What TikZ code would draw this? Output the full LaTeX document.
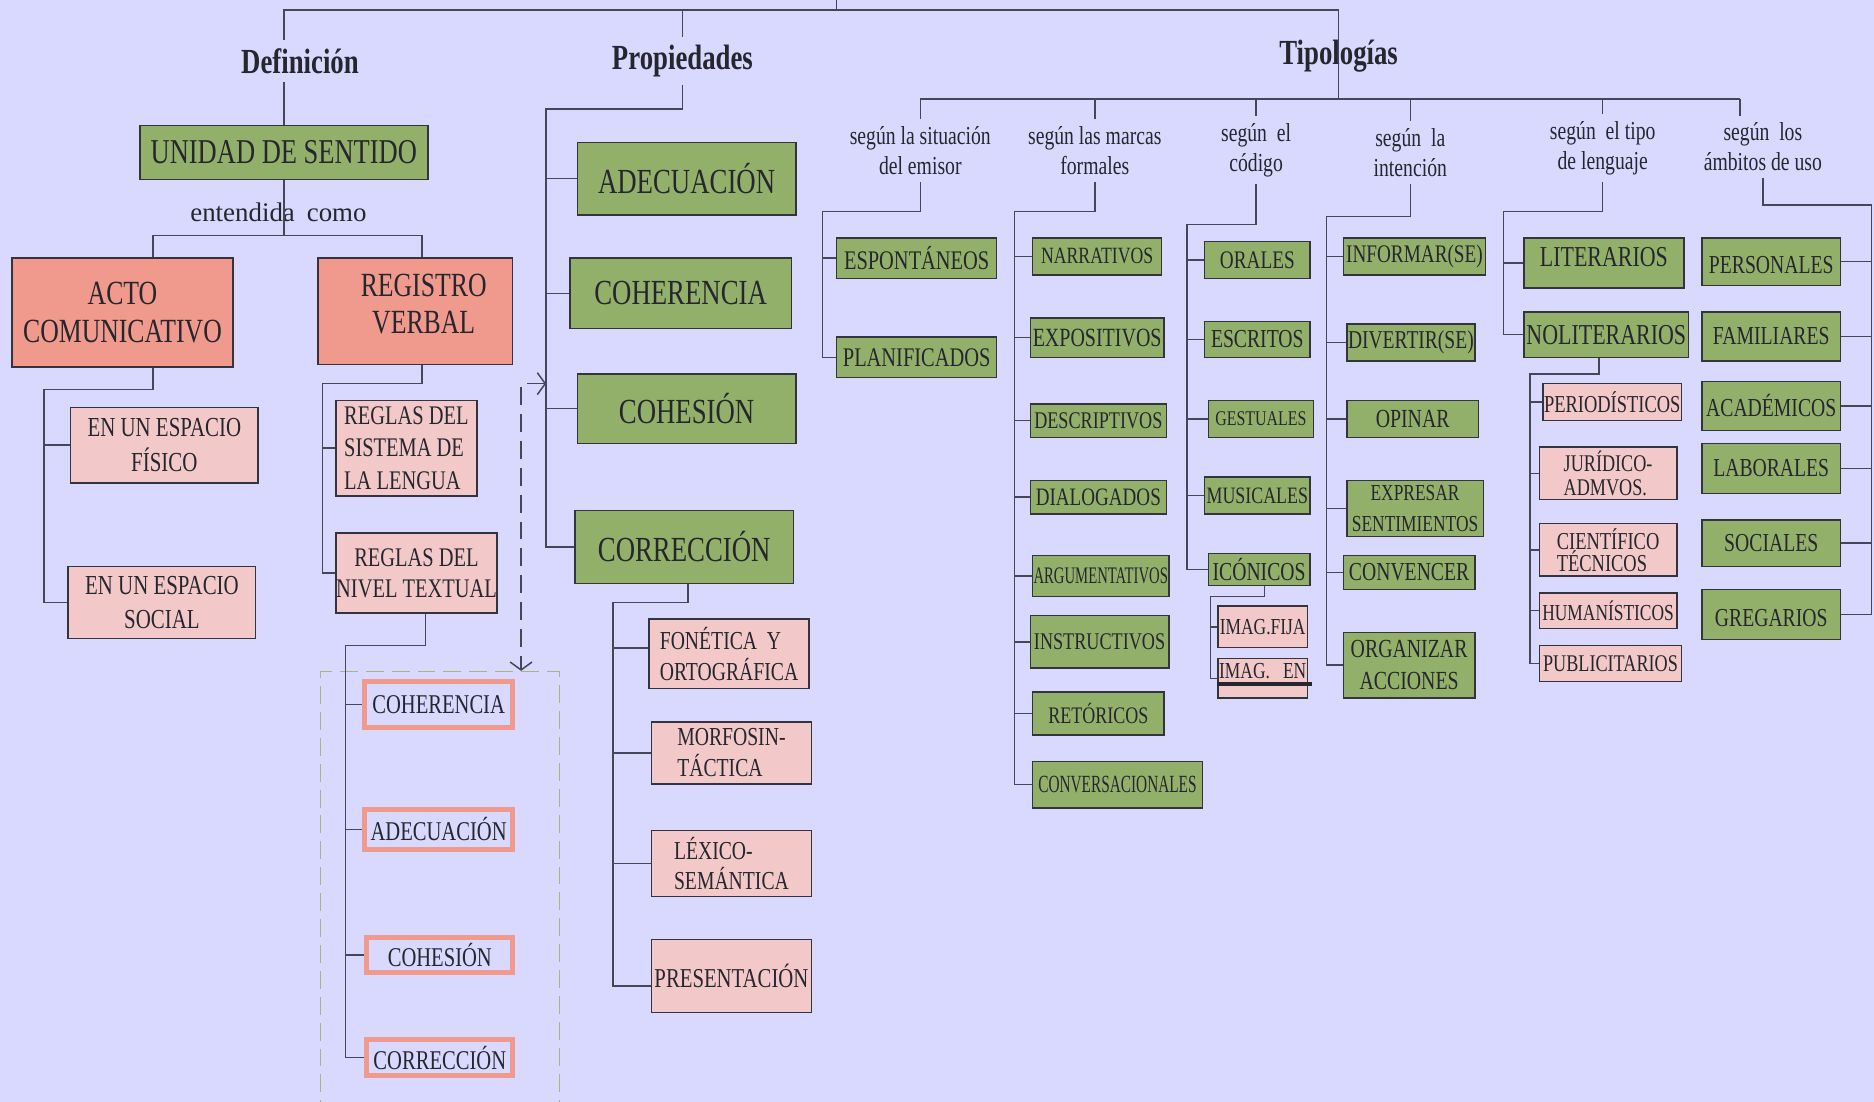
\documentclass[tikz,border=0pt]{standalone}
\usepackage{fontspec}
\setmainfont{Liberation Serif}[FakeStretch=0.76]
\newfontfamily\narrowfont{Liberation Serif}[FakeStretch=0.62]
\newfontfamily\plainfont{Liberation Serif}
\usetikzlibrary{arrows.meta}
\newcommand{\fsz}[2]{\fontsize{#1}{#2}\selectfont}
\definecolor{fondo}{HTML}{D9D9FF}
\definecolor{verde}{HTML}{93B06B}
\definecolor{salmon}{HTML}{EF9A8C}
\definecolor{rosa}{HTML}{F2C9C8}
\definecolor{linea}{HTML}{464656}
\definecolor{borde}{HTML}{34343E}
\definecolor{tinta}{HTML}{26262E}
\definecolor{oliva}{HTML}{A6B67C}
\tikzset{>={Straight Barb[length=4pt,width=11pt]}}
\tikzset{
  line/.style={draw=linea, line width=0.75pt},
  wh/.style 2 args={minimum width=#1*0.6pt, minimum height=#2*0.6pt},
  gbox/.style={draw=borde, fill=verde, line width=0.7pt, inner sep=0pt, text=tinta, align=center, font=\fsz{12.7}{15}},
  rbox/.style={gbox, fill=salmon},
  pbox/.style={gbox, fill=rosa},
  obox/.style={draw=salmon, line width=2.5pt, fill=fondo, inner sep=0pt, text=tinta, font=\fsz{13.6}{16}},
  head/.style={text=tinta, inner sep=4pt, font=\bfseries\fsz{17.7}{20}},
  cat/.style={text=tinta, inner sep=3.5pt, align=center, font=\fsz{13}{15}},
  dbox/.style={draw=oliva, line width=0.8pt, dash pattern=on 9pt off 4pt, inner sep=0pt}
}

\begin{document}
\begin{tikzpicture}[x=0.6pt, y=-0.6pt]
    \useasboundingbox (0,0) rectangle (1568,922);
    \fill[fondo] (0,0) rectangle (1568,922);

    % headings
    \node[head] (def) at (251,51) {Definición};
    \node[head] (prop) at (571,51) {Propiedades};
    \node[head] (tipo) at (1120,47) {Tipologías};
    \coordinate (root) at (700,0);
    \coordinate (tope) at (700,8.4);
    \coordinate (tbus) at (770,83);
    \coordinate (tbusR) at (1456,83);

    % definicion
    \node[gbox, wh={241}{45}, font=\fsz{17.5}{20}] (unidad) at (237.5,127.5) {UNIDAD DE SENTIDO};
    \node[text=tinta, font=\plainfont\fsz{13.5}{16}] (como) at (233,178) {entendida\hspace{6pt}como};
    \node[rbox, wh={185}{91}, font=\fsz{17}{19.5}] (acto) at (102.5,261.5) {ACTO\\COMUNICATIVO};
    \node[rbox, wh={163}{89}, font=\fsz{17}{18.5}, text depth=8pt] (registro) at (347.5,260.5) {\hspace*{8.4pt}REGISTRO\\\hspace*{8.4pt}VERBAL};
    \node[pbox, wh={157}{63}, font=\fsz{13.8}{17.3}] (fisico) at (137.5,372.5) {EN UN ESPACIO\\FÍSICO};
    \node[pbox, wh={157}{60}, font=\fsz{13.8}{17.3}] (social) at (135.5,504) {EN UN ESPACIO\\SOCIAL};
    \node[pbox, wh={118}{80}, font=\fsz{13.5}{16.4}, align=left] (sistema) at (340,375) {REGLAS DEL\\SISTEMA DE\\LA LENGUA};
    \node[pbox, wh={135}{67}, font=\fsz{13.5}{15.6}] (nivel) at (348.5,479.5) {REGLAS DEL\\NIVEL TEXTUAL};
    \node[dbox, wh={200}{368}] (marco) at (368,746) {};
    \node[obox, wh={124}{39}] (coh2) at (367,589.5) {COHERENCIA};
    \node[obox, wh={124}{34}] (ade2) at (367,694) {ADECUACIÓN};
    \node[obox, wh={122}{30}] (cohes2) at (368,799) {COHESIÓN};
    \node[obox, wh={122}{30}] (corr2) at (368,885) {CORRECCIÓN};

    % propiedades
    \node[gbox, wh={183}{61}, font=\fsz{17.7}{20}] (adec) at (574.5,149.5) {ADECUACIÓN};
    \node[gbox, wh={185}{59}, font=\fsz{17.7}{20}] (coher) at (569.5,245.5) {COHERENCIA};
    \node[gbox, wh={183}{58}, font=\fsz{17.7}{20}] (cohes) at (574.5,342) {COHESIÓN};
    \node[gbox, wh={183}{61}, font=\fsz{17.7}{20}] (correc) at (572.5,457.5) {CORRECCIÓN};
    \node[pbox, wh={134}{58}, font=\fsz{13}{15.6}, align=left] (fonet) at (610,547) {FONÉTICA\ \ Y\\ORTOGRÁFICA};
    \node[pbox, wh={134}{52}, font=\fsz{13}{15.6}, align=left] (morfo) at (612,630) {MORFOSIN-\\TÁCTICA};
    \node[pbox, wh={134}{55}, font=\fsz{13}{14.6}, align=left] (lexico) at (612,722.5) {LÉXICO-\\SEMÁNTICA};
    \node[pbox, wh={134}{61}, font=\fsz{13.7}{16}] (present) at (612,816.5) {PRESENTACIÓN};

    % tipologias
    \node[cat] (cat1) at (770,126) {según la situación\\del emisor};
    \node[cat] (cat2) at (916,126) {según las marcas\\formales};
    \node[cat] (cat3) at (1051,125.5) {según\ \ el\\código};
    \node[cat] (cat4) at (1180,127.5) {según\ \ la\\intención};
    \node[cat] (cat5) at (1341,124) {según\ \ el tipo\\de lenguaje};
    \node[cat] (cat6) at (1475,123) {según\ \ los\\ámbitos de uso};

    \node[gbox, wh={134}{34}, font=\fsz{13.5}{16}] (esp) at (767,216) {ESPONTÁNEOS};
    \node[gbox, wh={134}{34}, font=\fsz{13.5}{16}] (plan) at (767,299) {PLANIFICADOS};

    \node[gbox, wh={108}{31}, font=\fsz{11.7}{14}] (narr) at (918,214.5) {NARRATIVOS};
    \node[gbox, wh={112}{33}, font=\fsz{13.2}{15}] (expo) at (918,282.5) {EXPOSITIVOS};
    \node[gbox, wh={114}{28}, font=\fsz{12}{14}] (descr) at (919,352) {DESCRIPTIVOS};
    \node[gbox, wh={114}{28}, font=\fsz{12.6}{15}] (dial) at (919,416) {DIALOGADOS};
    \node[gbox, wh={114}{34}, font=\narrowfont\fsz{11.9}{14}] (argu) at (921,482) {ARGUMENTATIVOS};
    \node[gbox, wh={116}{44}, font=\fsz{12}{14}] (instr) at (920,537) {INSTRUCTIVOS};
    \node[gbox, wh={110}{36}, font=\fsz{11.9}{14}] (reto) at (919,597) {RETÓRICOS};
    \node[gbox, wh={142}{39}, font=\narrowfont\fsz{12.4}{14}] (conv) at (935,656.5) {CONVERSACIONALES};

    \node[gbox, wh={88}{31}] (orales) at (1052,217.5) {ORALES};
    \node[gbox, wh={88}{30}, font=\fsz{13}{15}] (escr) at (1052,284) {ESCRITOS};
    \node[gbox, wh={88}{31}, font=\fsz{10.5}{13}] (gest) at (1055,350.5) {GESTUALES};
    \node[gbox, wh={88}{31}, font=\fsz{11.8}{14}] (musi) at (1052,414.5) {MUSICALES};
    \node[gbox, wh={85}{27}, font=\fsz{13}{15}] (icon) at (1053.5,476.5) {ICÓNICOS};
    \node[pbox, wh={75}{35}, font=\fsz{11.5}{14}] (fija) at (1056.5,524.5) {IMAG.FIJA};
    \node[pbox, wh={75}{33}, font=\fsz{11.5}{14}, text depth=7pt] (imagen) at (1056.5,567.5) {IMAG.\ \ \ EN};

    \node[gbox, wh={119}{31}] (inform) at (1183.5,214.5) {INFORMAR(SE)};
    \node[gbox, wh={107}{31}, font=\fsz{12.9}{15}] (divert) at (1180.5,286.5) {DIVERTIR(SE)};
    \node[gbox, wh={110}{31}, font=\fsz{13.1}{15}] (opinar) at (1182,350.5) {OPINAR};
    \node[gbox, wh={114}{47}, font=\fsz{11.5}{15.9}] (expres) at (1184,425.5) {EXPRESAR\\SENTIMIENTOS};
    \node[gbox, wh={110}{28}, font=\fsz{13}{15}] (conven) at (1179,479) {CONVENCER};
    \node[gbox, wh={110}{55}, font=\fsz{13.1}{16.2}] (organ) at (1179,556.5) {ORGANIZAR\\ACCIONES};

    \node[gbox, wh={134}{42}, font=\fsz{14.5}{17}, text depth=6pt] (liter) at (1342,220) {LITERARIOS};
    \node[gbox, wh={138}{38}, font=\fsz{14.5}{17}] (noliter) at (1344,280) {NOLITERARIOS};
    \node[pbox, wh={116}{31}, font=\fsz{12.2}{14}] (period) at (1349,336.5) {PERIODÍSTICOS};
    \node[pbox, wh={115}{44}, font=\fsz{12}{12.2}, align=left] (jurid) at (1345.5,396) {JURÍDICO-\\ADMVOS.};
    \node[pbox, wh={115}{44}, font=\fsz{12.2}{11}, align=left] (cient) at (1345.5,460) {CIENTÍFICO\\TÉCNICOS};
    \node[pbox, wh={115}{30}, font=\fsz{11.5}{14}] (human) at (1345.5,511) {HUMANÍSTICOS};
    \node[pbox, wh={119}{30}, font=\fsz{12}{14}] (publi) at (1347.5,555) {PUBLICITARIOS};

    \node[gbox, wh={116}{40}, font=\fsz{13}{15}, text height=12pt] (perso) at (1482,219) {PERSONALES};
    \node[gbox, wh={116}{41}, font=\fsz{13}{15}] (famil) at (1482,281.5) {FAMILIARES};
    \node[gbox, wh={116}{41}, font=\fsz{13}{15}] (acad) at (1482,339.5) {ACADÉMICOS};
    \node[gbox, wh={116}{42}, font=\fsz{13}{15}] (labor) at (1482,392) {LABORALES};
    \node[gbox, wh={116}{39}, font=\fsz{13}{15}] (soci) at (1482,454.5) {SOCIALES};
    \node[gbox, wh={116}{42}, font=\fsz{13}{15}, text height=12pt] (greg) at (1482,514) {GREGARIOS};

    % top lines
    \draw[line] (root) -- (tope);
    \draw[line] (def.north -| unidad) -- (unidad |- tope) -- (tipo |- tope) -- (tipo |- tbus);
    \draw[line] (prop.north) -- (prop |- tope);
    \draw[line] (unidad.north) -- (unidad |- def.south);
    \draw[line] (tbus) -- (tbusR);
    \foreach \c in {cat1,cat2,cat3,cat4,cat5}
        \draw[line] (\c.north) -- (\c |- tbus);
    \draw[line] (tbusR) -- (tbusR |- cat6.north);

    % definicion lines
    \coordinate (actoj) at (128,197);
    \coordinate (regj) at (353,197);
    \draw[line] (unidad.south) -- (unidad.south |- actoj);
    \draw[line] (acto.north -| actoj) -- (actoj) -- (regj) -- (regj |- registro.north);
    \coordinate (espj) at (37,326);
    \draw[line] (acto.south -| actoj) |- (espj) |- (social.west);
    \draw[line] (espj) |- (fisico.west);
    \coordinate (reglj) at (270,321);
    \draw[line] (registro.south -| regj) |- (reglj) |- (nivel.west);
    \draw[line] (reglj) |- (sistema.west);
    \coordinate (nivj) at (289,540);
    \draw[line] ([xshift=4.5pt]nivel.south) |- (nivj) |- (corr2.west);
    \foreach \n in {coh2,ade2,cohes2}
        \draw[line] (nivj) |- (\n.west);

    % propiedades lines
    \coordinate (propj) at (457,91);
    \draw[line] (prop.south) |- (propj) |- (correc.west);
    \foreach \n in {adec,coher,cohes}
        \draw[line] (propj) |- (\n.west);
    \coordinate (corrj) at (513,504);
    \draw[line] ([xshift=2pt]correc.south) |- (corrj) |- ([yshift=-5pt]present.west);
    \draw[line] (corrj) |- ([yshift=3pt]fonet.west);
    \foreach \n in {morfo,lexico}
        \draw[line] (corrj) |- (\n.west);
    \coordinate (flecha) at (436,321);
    \draw[line, dash pattern=on 9pt off 4.5pt, <->] (flecha -| propj) -- (flecha) -- (flecha |- marco.north);

    % tipologias lines
    \coordinate (sitj) at (688,177);
    \draw[line] (cat1.south) |- (sitj) |- (plan.west);
    \draw[line] (sitj) |- (esp.west);
    \coordinate (marj) at (849,177);
    \draw[line] (cat2.south) |- (marj) |- (conv.west);
    \foreach \n in {narr,expo,descr,dial,argu,instr,reto}
        \draw[line] (marj) |- (\n.west);
    \coordinate (codj) at (993,188);
    \draw[line] (cat3.south) |- (codj) |- (icon.west);
    \foreach \n in {orales,escr,gest,musi}
        \draw[line] (codj) |- (\n.west);
    \coordinate (iconj) at (1013,499);
    \draw[line] ([xshift=2.7pt]icon.south) |- (iconj) |- (imagen.west);
    \draw[line] (iconj) |- (fija.west);
    \draw[draw=tinta, line width=1.7pt] ([yshift=-2.9pt]imagen.west) -- ([xshift=1.8pt,yshift=-2.9pt]imagen.east);
    \coordinate (intj) at (1110,181);
    \draw[line] (cat4.south) |- (intj) |- (organ.west);
    \foreach \n in {inform,divert,opinar,expres,conven}
        \draw[line] (intj) |- (\n.west);
    \coordinate (lenj) at (1258,177);
    \draw[line] (cat5.south) |- (lenj) |- (noliter.west);
    \draw[line] (lenj) |- (liter.west);
    \coordinate (nolj) at (1280,313);
    \draw[line] ([xshift=-3.6pt]noliter.south) |- (nolj) |- (publi.west);
    \foreach \n in {period,jurid,cient,human}
        \draw[line] (nolj) |- (\n.west);
    \coordinate (ambj) at (1566,171.6);
    \draw[line] (cat6.south) |- (ambj) |- (greg.east);
    \foreach \n in {perso,famil,acad,labor,soci}
        \draw[line] (ambj) |- (\n.east);
\end{tikzpicture}
\end{document}
